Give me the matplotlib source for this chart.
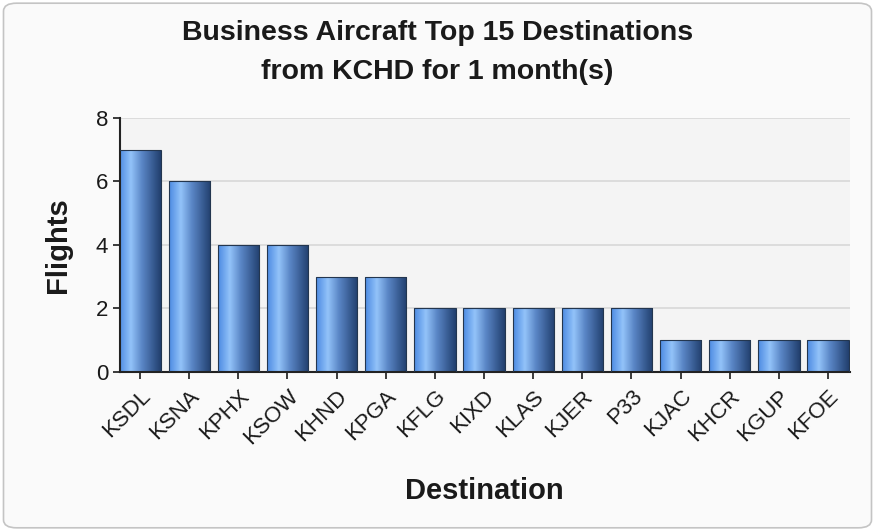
import numpy as np
import matplotlib
matplotlib.use('Agg')
import matplotlib.pyplot as plt
from matplotlib.patches import FancyBboxPatch
from matplotlib.colors import LinearSegmentedColormap

destinations = ['KSDL', 'KSNA', 'KPHX', 'KSOW', 'KHND', 'KPGA', 'KFLG', 'KIXD',
                'KLAS', 'KJER', 'P33', 'KJAC', 'KHCR', 'KGUP', 'KFOE']
flights = [7, 6, 4, 4, 3, 3, 2, 2, 2, 2, 2, 1, 1, 1, 1]
yticks = [0, 2, 4, 6, 8]

TEXT = '#1a1a1a'
plt.rcParams['font.family'] = ['Liberation Sans', 'DejaVu Sans']

fig = plt.figure(figsize=(8.75, 5.31), dpi=100)
fig.patch.set_facecolor('white')
border = FancyBboxPatch((0.004, 0.006), 0.992, 0.988,
                        boxstyle='round,pad=0,rounding_size=0.015',
                        transform=fig.transFigure, facecolor='#fafafa',
                        edgecolor='#c4c4c4', linewidth=1.2, zorder=-10)
fig.patches.append(border)

ax = fig.add_axes([0.137, 0.2994, 0.834, 0.4786])
ax.set_facecolor('#f4f4f4')

x = np.arange(len(destinations))
bars = ax.bar(x, flights, width=0.84, color='none', edgecolor='#23364f',
              linewidth=0.8, zorder=3)

# cylinder-like horizontal shading
cmap = LinearSegmentedColormap.from_list('cyl', [
    (0.0, '#4d8be2'), (0.28, '#93c3f9'), (0.55, '#5a86c6'),
    (0.85, '#34578c'), (1.0, '#22406e')])
grad = np.linspace(0, 1, 64).reshape(1, -1)
for b in bars:
    x0, w, h = b.get_x(), b.get_width(), b.get_height()
    im = ax.imshow(grad, cmap=cmap, aspect='auto', extent=(x0, x0 + w, 0, h),
                   zorder=2, interpolation='bilinear')
    im.set_clip_path(b)

ax.set_xlim(-0.41, len(destinations) - 0.56)
ax.set_ylim(0, 8)
ax.set_yticks(yticks)
ax.grid(axis='y', color='#d8d8d8', linewidth=1.2, zorder=0)
ax.set_axisbelow(True)
for s in ['top', 'right']:
    ax.spines[s].set_visible(False)
ax.spines['left'].set_linewidth(1.5)
ax.spines['bottom'].set_linewidth(1.5)
ax.spines['left'].set_color('#222222')
ax.spines['bottom'].set_color('#222222')

ax.set_xticks(x)
ax.set_xticklabels(destinations, rotation=45, ha='right', rotation_mode='anchor',
                   fontsize=16, color=TEXT)
ax.tick_params(axis='y', labelsize=16, colors=TEXT, length=5, width=1.2)
ax.tick_params(axis='x', length=5, width=1.2, colors=TEXT, pad=5)

ax.set_ylabel('Flights', fontsize=21, fontweight='bold', color=TEXT, labelpad=17)
ax.set_xlabel('Destination', fontsize=21, fontweight='bold', color=TEXT, labelpad=20)

fig.text(0.5, 0.963, 'Business Aircraft Top 15 Destinations\nfrom KCHD for 1 month(s)',
         ha='center', va='top', fontsize=20.5, fontweight='bold', color=TEXT,
         linespacing=1.65)

fig.savefig('out.png', dpi=100, facecolor=fig.get_facecolor())
